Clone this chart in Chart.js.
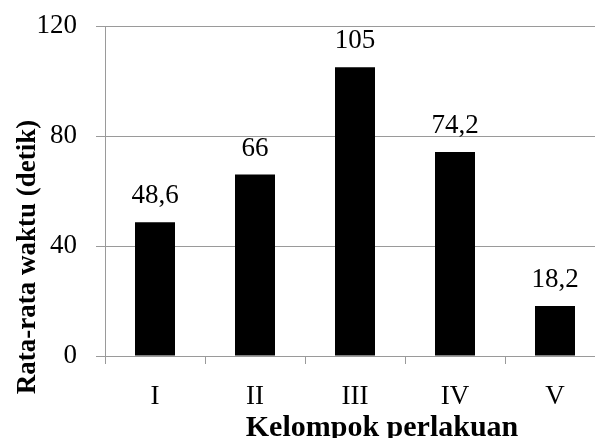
<!DOCTYPE html>
<html>
<head>
<meta charset="utf-8">
<script src="https://cdn.jsdelivr.net/npm/chart.js@4/dist/chart.umd.min.js"></script>
<style>
  html, body { margin: 0; padding: 0; background: #fff; overflow: hidden; }
  #wrap { width: 612px; height: 438px; position: relative; }
</style>
</head>
<body>
<div id="wrap"><canvas id="c"></canvas></div>
<script>
const categories = ['I', 'II', 'III', 'IV', 'V'];
const values = [48.6, 66, 105, 74.2, 18.2];
const valueLabels = ['48,6', '66', '105', '74,2', '18,2'];
const yTicks = [0, 40, 80, 120];
const xTitle = 'Kelompok perlakuan';
const yTitle = 'Rata-rata waktu (detik)';

const SERIF = '"Liberation Serif", "Times New Roman", serif';
const GRID = '#9a9a9a';

const labelPlugin = {
  id: 'extras',
  afterDatasetsDraw(chart) {
    const ctx = chart.ctx;
    const meta = chart.getDatasetMeta(0);
    ctx.save();
    ctx.fillStyle = '#000';
    ctx.font = '27px ' + SERIF;
    ctx.textAlign = 'center';
    ctx.textBaseline = 'alphabetic';
    meta.data.forEach((bar, i) => {
      ctx.fillText(valueLabels[i], bar.x, bar.y - 19);
    });
    ctx.restore();
  },
  afterDraw(chart) {
    const ctx = chart.ctx;
    ctx.save();
    ctx.fillStyle = '#000';
    ctx.font = 'bold 30px ' + SERIF;
    ctx.textAlign = 'center';
    ctx.textBaseline = 'alphabetic';
    ctx.fillText(xTitle, 382, 436);
    ctx.translate(35, 257);
    ctx.rotate(-Math.PI / 2);
    ctx.font = 'bold 27px ' + SERIF;
    ctx.fillText(yTitle, 0, 0);
    ctx.restore();
  }
};

new Chart(document.getElementById('c'), {
  type: 'bar',
  data: {
    labels: categories,
    datasets: [{
      data: values,
      backgroundColor: '#000',
      borderWidth: 0,
      barPercentage: 0.4,
      categoryPercentage: 1.0
    }]
  },
  options: {
    responsive: true,
    maintainAspectRatio: false,
    animation: false,
    layout: { padding: { left: 0, right: 7, top: 26, bottom: 0 } },
    plugins: { legend: { display: false }, tooltip: { enabled: false } },
    scales: {
      x: {
        grid: { display: true, drawOnChartArea: false, offset: true, color: GRID, tickLength: 8, lineWidth: 1 },
        border: { display: true, color: GRID, width: 1 },
        ticks: { color: '#000', font: { family: SERIF, size: 27 }, padding: 17 },
        afterFit(scale) { scale.height = 82; scale.paddingLeft = 0; scale.paddingRight = 0; }
      },
      y: {
        min: 0, max: 120,
        afterBuildTicks(scale) { scale.ticks = yTicks.map(v => ({ value: v })); },
        grid: { color: GRID, tickLength: 9, lineWidth: 1 },
        border: { display: true, color: GRID, width: 1 },
        ticks: { color: '#000', font: { family: SERIF, size: 27 }, padding: 19 },
        afterFit(scale) { scale.width = 105; scale.paddingTop = 0; scale.paddingBottom = 0; }
      }
    }
  },
  plugins: [labelPlugin]
});
</script>
</body>
</html>
